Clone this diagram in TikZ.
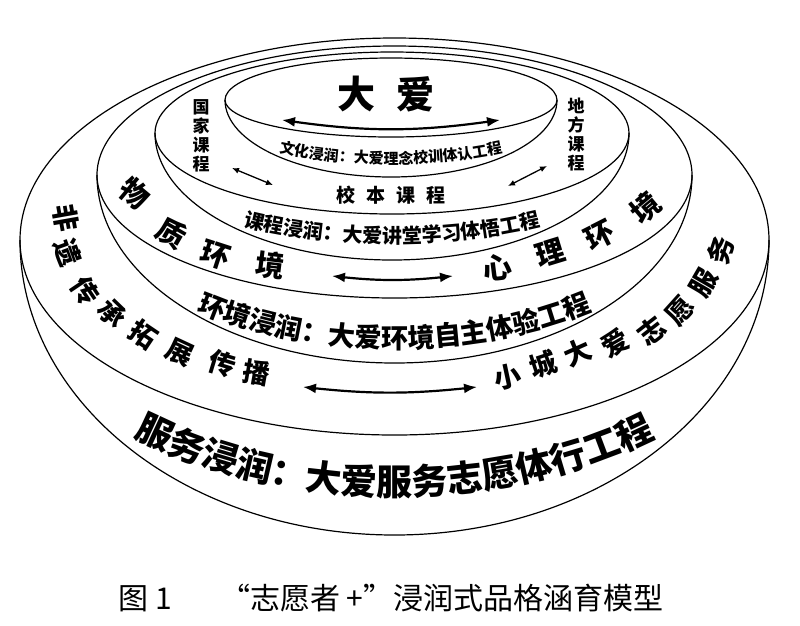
\documentclass[tikz,border=0pt]{standalone}
\usepackage{fontspec}
\setmainfont{Noto Sans CJK SC}
\usetikzlibrary{arrows.meta,decorations.text}

\begin{document}
\begin{tikzpicture}[x=1pt, y=1pt,
    layer/.style={draw, fill=white, line width=1.2pt},
    rim/.style={line width=1.2pt},
    bigchar/.style={font=\bfseries\fontsize{29}{29}\selectfont, inner sep=0pt},
    midchar/.style={font=\bfseries\fontsize{27}{27}\selectfont, inner sep=0pt},
    course/.style={font=\bfseries\fontsize{17}{19}\selectfont, align=center, inner sep=0pt},
    relation/.style={{Latex[length=13pt,width=10pt]}-{Latex[length=13pt,width=10pt]}, line width=2.2pt},
    minor/.style={{Latex[length=7pt,width=6pt]}-{Latex[length=7pt,width=6pt]}, line width=1.3pt}
]
    \useasboundingbox (0,0) rectangle (800,-625);

    \foreach \cx/\rx/\ya/\yb/\yc/\yd in {394.5/374.5/240/38/435/535, 394.5/297.5/175/46/298/363,
                                         392/237/133/52/214/260, 391/166/100/58/137/177}{
        \path[layer] (\cx-\rx,-\ya) arc[start angle=180, end angle=0, x radius=\rx, y radius=\ya-\yb]
            arc[start angle=0, end angle=-180, x radius=\rx, y radius=\yd-\ya] -- cycle;
        \draw[rim] (\cx-\rx,-\ya) arc[start angle=180, end angle=360, x radius=\rx, y radius=\yc-\ya];
    }

    \node[font=\bfseries\fontsize{38}{38}\selectfont, inner sep=0pt] (daai) at (386,-94) {大\hspace{22pt}爱};

    \path[decorate, decoration={text along path, text align=center,
        text={|\bfseries\fontsize{15}{15}\selectfont|文化浸润：大爱理念校训体认工程}}]
        (194,-100) arc[start angle=180, end angle=360, x radius=197, y radius=64];
    \path[decorate, decoration={text along path, text align=center,
        text={|\bfseries\fontsize{20}{20}\selectfont|课程浸润：大爱讲堂学习体悟工程}}]
        (113,-133) arc[start angle=180, end angle=360, x radius=279, y radius=110];
    \path[decorate, decoration={text along path, text align=center,
        text={|\bfseries\fontsize{27}{27}\selectfont|环境浸润：大爱环境自主体验工程}}]
        (75.5,-175) arc[start angle=180, end angle=360, x radius=319, y radius=173];
    \path[decorate, decoration={text along path, text align=center,
        text={|\bfseries\fontsize{36}{36}\selectfont|服务浸润：大爱服务志愿体行工程}}]
        (-15.5,-240) arc[start angle=180, end angle=360, x radius=410, y radius=255];

    \node[course] (guojia) at (201,-136) {国\\家\\课\\程};
    \node[course] (difang) at (576,-135) {地\\方\\课\\程};
    \node[font=\bfseries\fontsize{19}{19}\selectfont, inner sep=0pt] (xiaoben) at (391,-195)
        {校\hspace{11pt}本\hspace{11pt}课\hspace{11pt}程};

    \foreach \c/\x/\y/\r [count=\i] in {物/135/193/-40, 质/172/233/-30, 环/215/255/-18, 境/270/265/-7}
        \node[bigchar, rotate=\r] (wuzhi\i) at (\x,-\y) {\c};
    \foreach \c/\x/\y/\r [count=\i] in {心/498/268/7, 理/550/253/17, 环/600/236/27, 境/645/208/40}
        \node[bigchar, rotate=\r] (xinli\i) at (\x,-\y) {\c};
    \foreach \c/\x/\y/\r [count=\i] in {非/66/218/-80, 遗/68/253/-70, 传/85/291/-56, 承/112/314/-44,
                                        拓/143/335/-34, 展/180/352/-25, 传/222/364/-17, 播/257/373/-10}
        \node[midchar, rotate=\r] (feiyi\i) at (\x,-\y) {\c};
    \foreach \c/\x/\y/\r [count=\i] in {小/508/377/12, 城/543/364/18, 大/578/353/24, 爱/615/343/30,
                                        志/652/331/38, 愿/680/311/48, 服/704/283/60, 务/721/250/72}
        \node[midchar, rotate=\r] (xiaocheng\i) at (\x,-\y) {\c};

    \coordinate (culL) at (282,-120);
    \coordinate (culR) at (500,-120);
    \coordinate (natA) at (232,-168);
    \coordinate (natB) at (273,-185);
    \coordinate (locA) at (508,-186);
    \coordinate (locB) at (547,-166);
    \coordinate (envL) at (332,-276);
    \coordinate (envR) at (453,-276);
    \coordinate (serL) at (303,-387);
    \coordinate (serR) at (477,-387);

    \draw[relation] (culL) to[bend right=8] (culR);
    \draw[minor] (natA) -- (natB);
    \draw[minor] (locA) -- (locB);
    \draw[relation] (envL) to[bend right=6] (envR);
    \draw[relation] (serL) to[bend right=6] (serR);

    \node[font=\fontsize{30}{30}\selectfont, inner sep=0pt] (caption) at (391,-598)
        {图 1\hspace{48pt}“志愿者 +”浸润式品格涵育模型};
\end{tikzpicture}
\end{document}
